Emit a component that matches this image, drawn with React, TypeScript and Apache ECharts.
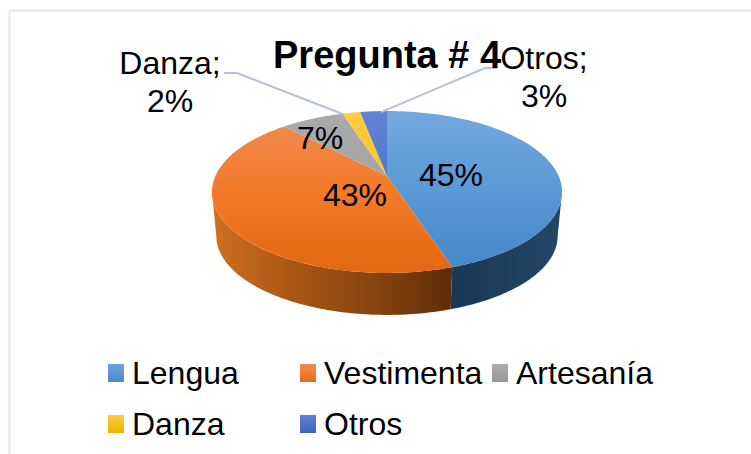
import React, { useEffect, useRef } from "react";
import * as echarts from "echarts";

const categories = ["Lengua", "Vestimenta", "Artesanía", "Danza", "Otros"];
const values = [45, 43, 7, 2, 3];
const topColors = [
  ["#74a8de", "#5a98d6", "#4487c8"],
  ["#ef8c55", "#f37a28", "#e26712"],
  ["#aaaaaa", "#a3a3a3", "#959595"],
  ["#ffcb45", "#ffc21a", "#f0b400"],
  ["#6183d2", "#4d77cb", "#3666bd"],
];
const legendColors = [
  ["#6ea3da", "#4a8ac9"],
  ["#f18c55", "#e96c15"],
  ["#aeaeae", "#979797"],
  ["#ffc93f", "#efb500"],
  ["#5f82d1", "#3767bf"],
];
const legendSpots = [
  [108, 357],
  [300, 357],
  [492, 357],
  [108, 408],
  [300, 408],
];
const labelSpots = [
  [451, 175],
  [355, 195],
  [320, 138],
  [170, 82],
  [544, 77],
];

const FONT = "Liberation Sans, Arial, sans-serif";
const CX = 387;
const AY = 176;
const A = 77.8;
const B = 171.6;
const W = 0.1975;
const EY = 192;
const DEPTH = 44;
const SHRINK = 0.975;

const total = values.reduce((a, b) => a + b, 0);
const project = (deg: number): [number, number] => {
  const t = (deg * Math.PI) / 180;
  const d = 1 + W * Math.cos(t);
  return [CX + (B * Math.sin(t)) / d, AY - (A * Math.cos(t)) / d];
};
const lower = (p: [number, number]): [number, number] => [
  CX + SHRINK * (p[0] - CX),
  EY + DEPTH + SHRINK * (p[1] - EY),
];
const arc = (a: number, b: number) => {
  const n = Math.max(2, Math.ceil(Math.abs(b - a)));
  return Array.from({ length: n + 1 }, (_, i) => project(a + ((b - a) * i) / n));
};
const grad = (x: number, y: number, x2: number, y2: number, stops: string[]) => ({
  type: "linear",
  x,
  y,
  x2,
  y2,
  global: true,
  colorStops: stops.map((color, i) => ({ offset: i / (stops.length - 1), color })),
});
const sideFill = [
  grad(452, 0, 560, 0, ["#1b3853", "#1f3f5d", "#234768"]),
  grad(214, 0, 453, 0, ["#cf6f20", "#a95614", "#88440f", "#5e2c08"]),
];
const LEFT_LIMIT = 258.6;
const RIGHT_LIMIT = 101.4;

function buildSeries() {
  let cum = 0;
  return categories.map((name, i) => {
    const start = (cum / total) * 360;
    cum += values[i];
    const end = (cum / total) * 360;
    const mid = (start + end) / 2;
    const s0 = Math.max(start, RIGHT_LIMIT);
    const s1 = Math.min(end, LEFT_LIMIT);
    return {
      type: "custom",
      name,
      coordinateSystem: "none",
      silent: true,
      itemStyle: { color: legendColors[i][0] },
      data: [values[i]],
      renderItem: () => {
        const children: any[] = [];
        if (s1 > s0) {
          const rim = arc(s0, s1);
          children.push({
            type: "polygon",
            shape: { points: [...rim, ...rim.map(lower).reverse()] },
            style: { fill: sideFill[i] || "#333", stroke: null },
          });
        }
        children.push({
          type: "polygon",
          shape: { points: [[CX, AY], ...arc(start, end)] },
          style: { fill: grad(0, 111, 0, 273, topColors[i]), stroke: null },
        });
        if (i >= 3) {
          const tip = project(i === 3 ? mid - 3 : mid + 3);
          const elbow = i === 3 ? [237, 73] : [485, 68];
          const tail = i === 3 ? [224, 73] : [497, 68];
          children.push({
            type: "polyline",
            shape: { points: [tail, elbow, [tip[0], tip[1] + 1]] },
            style: { fill: null, stroke: "#b4c3d8", lineWidth: 2 },
          });
        }
        const pct = `${Math.round((values[i] / total) * 100)}%`;
        children.push({
          type: "text",
          style: {
            x: labelSpots[i][0],
            y: labelSpots[i][1],
            text: i >= 3 ? `${name};\n${pct}` : pct,
            fill: "#000",
            font: `32px ${FONT}`,
            lineHeight: 38,
            textAlign: "center",
            textVerticalAlign: "middle",
          },
        });
        return { type: "group", children };
      },
    };
  });
}

export default function App() {
  const ref = useRef<HTMLDivElement>(null);
  useEffect(() => {
    const chart = echarts.init(ref.current!, undefined, { renderer: "svg" });
    chart.setOption({
      animation: false,
      backgroundColor: "#ffffff",
      title: {
        text: "Pregunta # 4",
        left: 273,
        top: 36,
        textStyle: { fontFamily: FONT, fontWeight: "bold", fontSize: 38, color: "#000" },
        padding: 0,
      },
      legend: categories.map((name, i) => ({
        left: legendSpots[i][0],
        top: legendSpots[i][1],
        padding: 0,
        icon: "rect",
        itemWidth: 16,
        itemHeight: 18,
        itemGap: 0,
        selectedMode: false,
        textStyle: { fontFamily: FONT, fontSize: 32, color: "#000", padding: [0, 0, 0, 3] },
        data: [
          {
            name,
            itemStyle: {
              color: {
                type: "linear",
                x: 0,
                y: 0,
                x2: 0,
                y2: 1,
                colorStops: [
                  { offset: 0, color: legendColors[i][0] },
                  { offset: 1, color: legendColors[i][1] },
                ],
              },
            },
          },
        ],
      })),
      graphic: [
        { type: "line", shape: { x1: 9.5, y1: 10.5, x2: 751, y2: 10.5 }, style: { stroke: "#e3e8f1", lineWidth: 2 } },
        { type: "line", shape: { x1: 9.5, y1: 10.5, x2: 9.5, y2: 454 }, style: { stroke: "#e3e8f1", lineWidth: 2 } },
      ],
      series: buildSeries(),
    });
    return () => chart.dispose();
  }, []);
  return <div ref={ref} style={{ width: 751, height: 454, position: "fixed", left: 0, top: 0 }} />;
}
